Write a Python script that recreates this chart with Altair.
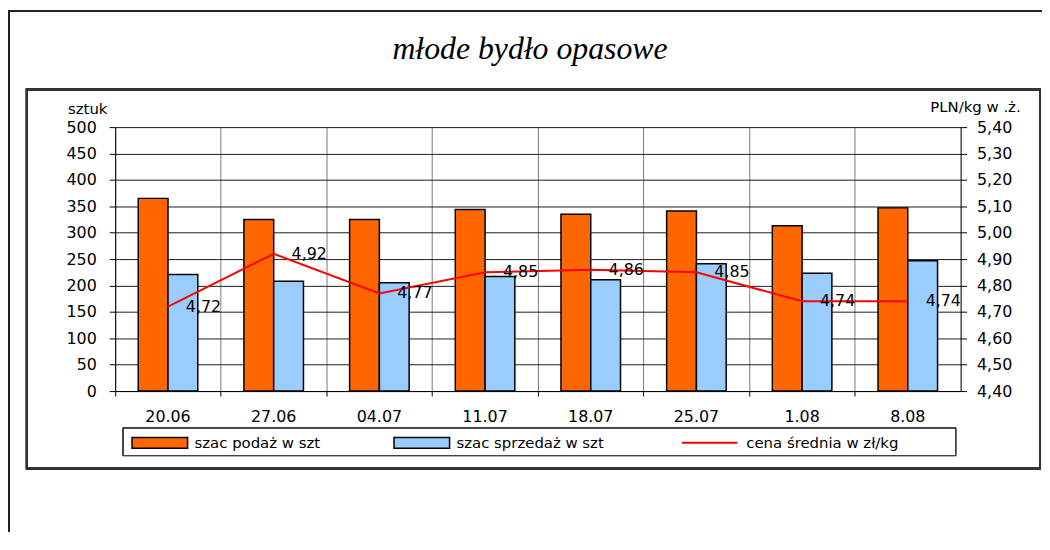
import altair as alt
import pandas as pd

# ---- data ----
dates = ["20.06", "27.06", "04.07", "11.07", "18.07", "25.07", "1.08", "8.08"]
podaz = [365, 325, 325, 344, 335, 341, 313, 347]
sprzedaz = [221, 208, 205, 217, 211, 241, 223, 247]
cena = [4.72, 4.92, 4.77, 4.85, 4.86, 4.85, 4.74, 4.74]
bar_series = ["szac podaż w  szt", "szac sprzedaż w  szt"]
line_series = ["cena średnia w  zł/kg"]
left_ticks = [0, 50, 100, 150, 200, 250, 300, 350, 400, 450, 500]
right_ticks = [4.4, 4.5, 4.6, 4.7, 4.8, 4.9, 5.0, 5.1, 5.2, 5.3, 5.4]

bars_df = pd.DataFrame({
    "data": dates * 2,
    "seria": [bar_series[0]] * len(dates) + [bar_series[1]] * len(dates),
    "sztuk": podaz + sprzedaz,
})
line_df = pd.DataFrame({
    "data": dates,
    "cena": cena,
    "seria": line_series * len(dates),
    "etykieta": [f"{v:.2f}".replace(".", ",") for v in cena],
})

FONT = "DejaVu Sans"
W, H = 852, 266

x_enc = alt.X(
    "data:N", sort=dates,
    scale=alt.Scale(paddingInner=0, paddingOuter=0),
    axis=alt.Axis(title=None, labelAngle=0, bandPosition=0, grid=True,
                  gridColor="#7a7a7a", gridWidth=1, ticks=True, tickSize=5,
                  tickColor="black", domainColor="black", domainWidth=1,
                  labelPadding=13, labelFont=FONT, labelFontSize=16,
                  labelColor="black"),
)

bars = alt.Chart(bars_df).mark_bar(stroke="black", strokeWidth=1.5).encode(
    x=x_enc,
    xOffset=alt.XOffset("seria:N", sort=bar_series,
                        scale=alt.Scale(paddingInner=0, paddingOuter=0.775)),
    y=alt.Y("sztuk:Q", scale=alt.Scale(domain=[0, 500]),
            axis=alt.Axis(values=left_ticks, title="sztuk", titleAngle=0,
                          titleAlign="left", titleBaseline="alphabetic",
                          titleX=-48, titleY=-14, titleFont=FONT,
                          titleFontSize=15, titleFontWeight="normal",
                          titleColor="black", grid=True, gridColor="#1e1e1e",
                          gridWidth=1, tickSize=6, tickColor="black",
                          domainColor="black", labelPadding=13,
                          labelFont=FONT, labelFontSize=16, labelColor="black")),
    fill=alt.Fill("seria:N", sort=bar_series,
                  scale=alt.Scale(domain=bar_series, range=["#FF6600", "#99CCFF"]),
                  legend=alt.Legend(title=None, orient="none", direction="horizontal",
                                    legendX=16, legendY=289, padding=0,
                                    symbolType="M-1,-0.196H1V0.196H-1Z",
                                    symbolSize=3136, symbolStrokeColor="black",
                                    symbolStrokeWidth=1.5, symbolOpacity=1,
                                    labelOffset=6, columnPadding=66,
                                    labelFont=FONT, labelFontSize=15,
                                    labelColor="black")),
)

line = alt.Chart(line_df).mark_line(strokeWidth=2).encode(
    x=alt.X("data:N", sort=dates),
    y=alt.Y("cena:Q", scale=alt.Scale(domain=[4.4, 5.4], zero=False),
            axis=alt.Axis(orient="right", values=right_ticks,
                          labelExpr="replace(format(datum.value, '.2f'), '.', ',')",
                          title="PLN/kg w .ż.", titleAngle=0, titleAlign="right",
                          titleBaseline="alphabetic", titleX=60, titleY=-16,
                          titleFont=FONT, titleFontSize=15,
                          titleFontWeight="normal", titleColor="black",
                          grid=False, tickSize=6, tickColor="black",
                          domainColor="black", labelPadding=10,
                          labelFont=FONT, labelFontSize=16, labelColor="black")),
    stroke=alt.Stroke("seria:N",
                      scale=alt.Scale(domain=line_series, range=["#FF0000"]),
                      legend=alt.Legend(title=None, orient="none", direction="horizontal",
                                        legendX=570, legendY=289, padding=0,
                                        symbolType="stroke", symbolSize=3136,
                                        symbolStrokeWidth=2, labelOffset=8,
                                        labelFont=FONT, labelFontSize=15,
                                        labelColor="black")),
)

labels = alt.Chart(line_df).mark_text(
    align="left", baseline="middle", dx=18, font=FONT, fontSize=16, color="black"
).encode(
    x=alt.X("data:N", sort=dates),
    y=alt.Y("cena:Q", scale=alt.Scale(domain=[4.4, 5.4], zero=False), axis=None),
    text="etykieta:N",
)

# decorative frames (chart area border, outer border, legend box)
outer_frame = alt.Chart(line_df).mark_rect(fillOpacity=0, stroke="#222", strokeWidth=2).encode(
    x=alt.value(-107), x2=alt.value(960), y=alt.value(-117), y2=alt.value(460))
inner_frame = alt.Chart(line_df).mark_rect(fillOpacity=0, stroke="#333", strokeWidth=2).encode(
    x=alt.value(-89), x2=alt.value(932), y=alt.value(-38), y2=alt.value(344))
legend_box = alt.Chart(line_df).mark_rect(fillOpacity=0, stroke="#444", strokeWidth=1).encode(
    x=alt.value(8), x2=alt.value(847), y=alt.value(303), y2=alt.value(331))

chart = alt.layer(outer_frame, inner_frame, legend_box, bars, line, labels).resolve_scale(
    y="independent"
).properties(
    width=W, height=H,
    autosize=alt.AutoSizeParams(type="none"),
    padding={"left": 108, "top": 118, "right": 82, "bottom": 140},
    title=alt.TitleParams("młode bydło opasowe", font="Liberation Serif",
                          fontStyle="italic", fontWeight="normal", fontSize=32,
                          color="black", anchor="middle", frame="group", dx=-8,
                          baseline="alphabetic", offset=0, dy=81),
).configure_view(stroke=None).configure(background="white")

chart.save("out.html", embed_options={"renderer": "svg", "actions": False})
